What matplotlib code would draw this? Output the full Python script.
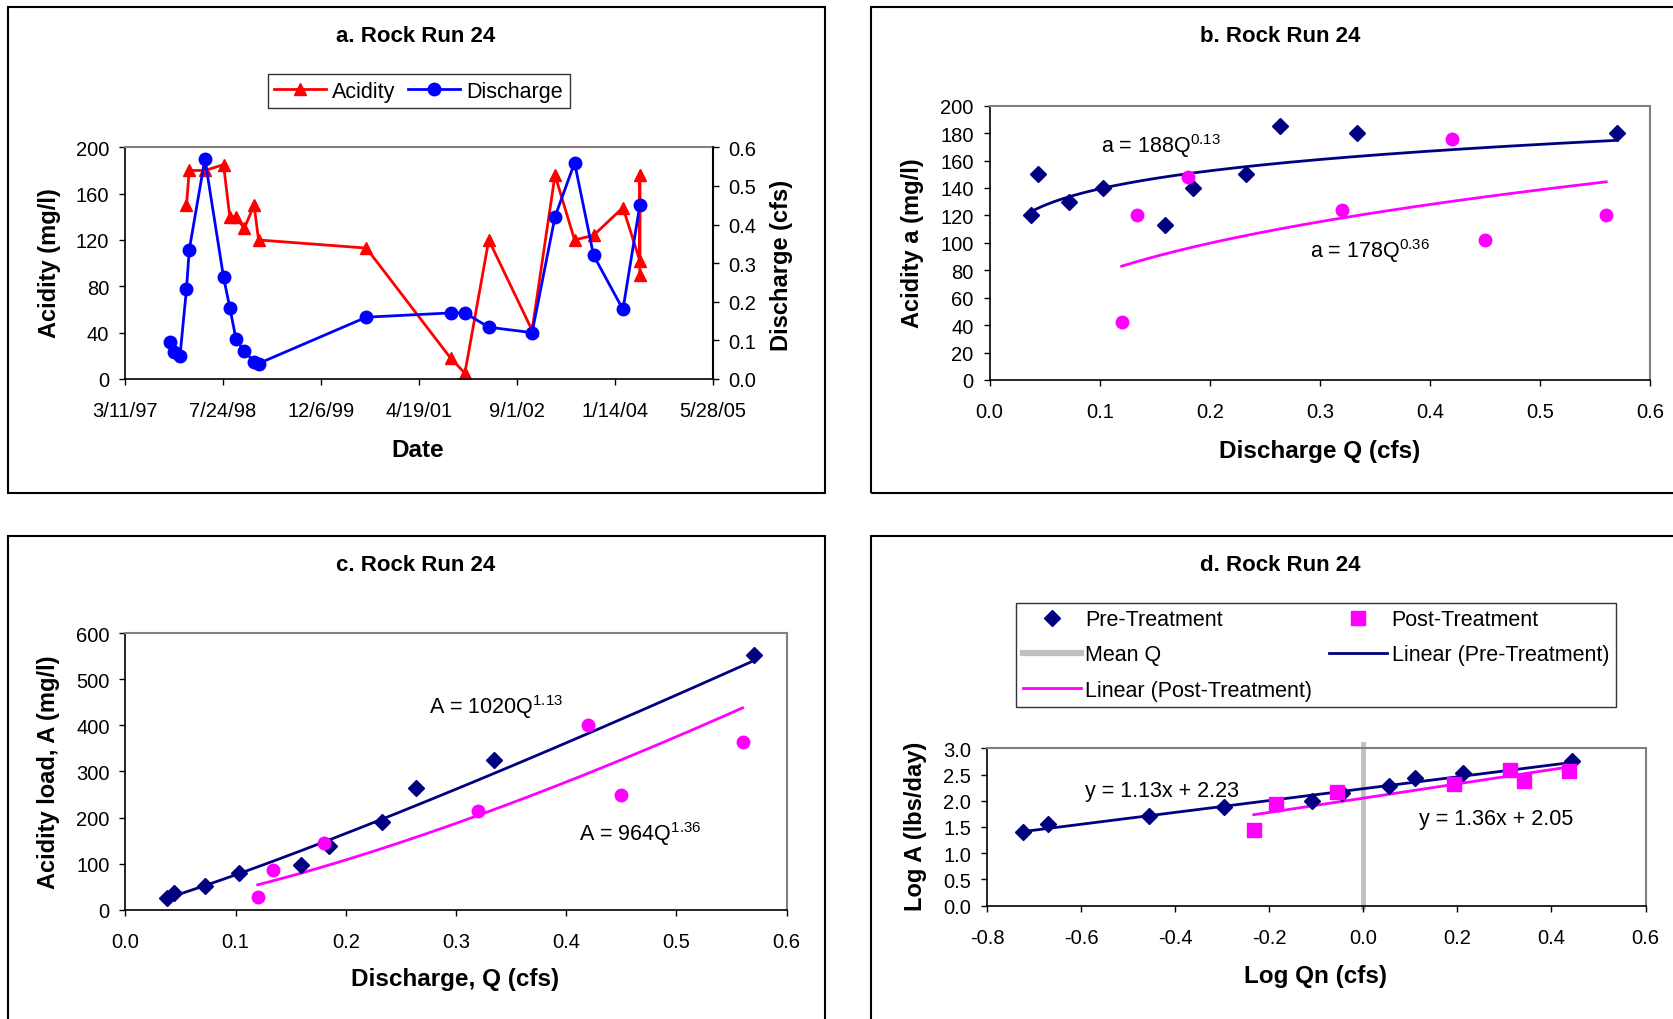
import numpy as np
import pandas as pd
import matplotlib
matplotlib.use('Agg')
import matplotlib.pyplot as plt
from matplotlib.patches import Rectangle
from matplotlib.lines import Line2D

plt.rcParams['font.family'] = ['Liberation Sans', 'DejaVu Sans']
plt.rcParams['mathtext.fontset'] = 'custom'
plt.rcParams['mathtext.rm'] = 'Liberation Sans'
plt.rcParams['mathtext.it'] = 'Liberation Sans:italic'
plt.rcParams['axes.unicode_minus'] = False

# --- a. sampling record -------------------------------------------------
acid_dates = ['1998-01-19', '1998-02-02', '1998-04-23', '1998-07-27', '1998-08-28',
              '1998-09-29', '1998-11-10', '1998-12-30', '1999-01-22', '2000-07-25',
              '2001-09-28', '2001-12-10', '2002-04-11', '2002-11-18', '2003-03-15',
              '2003-06-23', '2003-09-28', '2004-02-25', '2004-05-21', '2004-05-21',
              '2004-05-21']
acidity = [150, 180, 180, 185, 140, 140, 130, 150, 120, 113,
           18, 5, 120, 42, 176, 120, 124, 148, 102, 176, 90]

flow_dates = ['1997-10-27', '1997-11-15', '1997-12-17', '1998-01-19', '1998-02-02',
              '1998-04-23', '1998-07-27', '1998-08-28', '1998-09-29', '1998-11-10',
              '1998-12-30', '1999-01-22', '2000-07-25', '2001-09-28', '2001-12-10',
              '2002-04-11', '2002-11-18', '2003-03-15', '2003-06-23', '2003-09-28',
              '2004-02-25', '2004-05-21']
discharge = [0.095, 0.071, 0.060, 0.233, 0.334, 0.570, 0.264, 0.185, 0.103, 0.072,
             0.045, 0.040, 0.160, 0.171, 0.171, 0.134, 0.120, 0.420, 0.560, 0.320,
             0.180, 0.450]

date_ticks = ['1997-03-11', '1998-07-24', '1999-12-06', '2001-04-19',
              '2002-09-01', '2004-01-14', '2005-05-28']
date_tick_labels = ['3/11/97', '7/24/98', '12/6/99', '4/19/01', '9/1/02', '1/14/04', '5/28/05']

# --- b/c/d. pre and post treatment samples --------------------------------
q_pre = [0.038, 0.044, 0.072, 0.103, 0.159, 0.185, 0.233, 0.264, 0.334, 0.570]
a_pre = [120, 150, 130, 140, 113, 140, 150, 185, 180, 180]
q_post = [0.120, 0.134, 0.180, 0.320, 0.420, 0.450, 0.560]
a_post = [42, 120, 148, 124, 176, 102, 120]

load_pre = [25, 36, 51, 80, 97, 138, 190, 264, 325, 554]
load_post = [27, 87, 145, 215, 400, 248, 363]

logq_pre = [-0.723, -0.671, -0.456, -0.297, -0.110, -0.045, 0.055, 0.109, 0.212, 0.444]
loga_pre = [1.41, 1.55, 1.70, 1.89, 2.00, 2.15, 2.28, 2.43, 2.52, 2.75]
logq_post = [-0.233, -0.185, -0.055, 0.193, 0.312, 0.342, 0.437]
loga_post = [1.44, 1.93, 2.17, 2.31, 2.59, 2.38, 2.56]

# fitted relations (coefficient, exponent) / (slope, intercept)
conc_fit_pre = (188, 0.13)
conc_fit_post = (178, 0.36)
load_fit_pre = (1020, 1.13)
load_fit_post = (964, 1.36)
log_fit_pre = (1.13, 2.23)
log_fit_post = (1.36, 2.05)

q_ticks = ['0.0', '0.1', '0.2', '0.3', '0.4', '0.5', '0.6']
logq_ticks = ['-0.8', '-0.6', '-0.4', '-0.2', '0.0', '0.2', '0.4', '0.6']
loga_ticks = ['0.0', '0.5', '1.0', '1.5', '2.0', '2.5', '3.0']

NAVY = '#000080'
PINK = '#FF00FF'
GRAY = '#808080'
TICK_FS = 14.5
XLAB_FS = 17.5
YLAB_FS = 17
TITLE_FS = 16
NOTE_FS = 15.5


def style_axes(ax):
    for s in ['top', 'right']:
        ax.spines[s].set_color(GRAY)
        ax.spines[s].set_linewidth(1.5)
    for s in ['left', 'bottom']:
        ax.spines[s].set_color('black')
        ax.spines[s].set_linewidth(1.2)
    ax.tick_params(direction='out', length=4.5, width=1, labelsize=TICK_FS, pad=7)
    ax.tick_params(axis='x', pad=11.5)


def panel_box(fig, x0, y0, x1, y1):
    fig.add_artist(Rectangle((x0, y0), x1 - x0, y1 - y0, transform=fig.transFigure,
                             fill=False, ec='black', lw=1.5, clip_on=False))


fig = plt.figure(figsize=(16.73, 10.2), dpi=100)

panel_box(fig, 0.0045, 0.5157, 0.4931, 0.9917)
panel_box(fig, 0.5204, 0.5157, 1.02, 0.9917)
panel_box(fig, 0.0045, -0.02, 0.4931, 0.4735)
panel_box(fig, 0.5204, -0.02, 1.02, 0.4735)

# ---------------- a. acidity and discharge through time ----------------
ax_a = fig.add_axes([0.0747, 0.6275, 0.3513, 0.2271])
style_axes(ax_a)
ax_a.spines['right'].set_color('black')
ax_a.plot(pd.to_datetime(acid_dates), acidity, color='red', lw=2,
          marker='^', ms=9, label='Acidity')
ax_a.set_ylim(0, 200)
ax_a.set_yticks(np.arange(0, 201, 40))
ax_a.set_xlim(pd.Timestamp(date_ticks[0]), pd.Timestamp(date_ticks[-1]))
ax_a.set_xticks(pd.to_datetime(date_ticks))
ax_a.set_xticklabels(date_tick_labels)

ax_q = ax_a.twinx()
for s in ['top', 'left', 'bottom']:
    ax_q.spines[s].set_visible(False)
ax_q.spines['right'].set_color('black')
ax_q.spines['right'].set_linewidth(1.2)
ax_q.plot(pd.to_datetime(flow_dates), discharge, color='blue', lw=2,
          marker='o', ms=9, label='Discharge')
ax_q.set_ylim(0, 0.6)
ax_q.set_yticks(np.linspace(0, 0.6, 7))
ax_q.set_yticklabels(q_ticks)
ax_q.tick_params(direction='out', length=4.5, width=1, labelsize=TICK_FS, pad=7)

handles = [ax_a.get_lines()[0], ax_q.get_lines()[0]]
fig.legend(handles, ['Acidity', 'Discharge'], loc='center', bbox_to_anchor=(0.2502, 0.9098),
           ncol=2, fontsize=15.5, frameon=True, fancybox=False, edgecolor='black',
           handlelength=2.4, handletextpad=0.3, columnspacing=0.6, borderpad=0.3)

fig.text(0.2487, 0.9647, 'a. Rock Run 24', ha='center', va='center',
         fontsize=TITLE_FS, fontweight='bold')
fig.text(0.2498, 0.5588, 'Date', ha='center', va='center', fontsize=XLAB_FS, fontweight='bold')
fig.text(0.0293, 0.7422, 'Acidity (mg/l)', ha='center', va='center', rotation=90,
         fontsize=YLAB_FS, fontweight='bold')
fig.text(0.4674, 0.7402, 'Discharge (cfs)', ha='center', va='center', rotation=90,
         fontsize=YLAB_FS, fontweight='bold')

# ---------------- b. concentration vs discharge ----------------
ax_b = fig.add_axes([0.5915, 0.6265, 0.3949, 0.2689])
style_axes(ax_b)
ax_b.plot(q_pre, a_pre, 'D', color=NAVY, ms=8.5, zorder=3)
ax_b.plot(q_post, a_post, 'o', color=PINK, ms=9, zorder=3)
qq = np.linspace(min(q_pre), max(q_pre), 200)
ax_b.plot(qq, conc_fit_pre[0] * qq ** conc_fit_pre[1], color=NAVY, lw=2)
qq = np.linspace(min(q_post), max(q_post), 200)
ax_b.plot(qq, conc_fit_post[0] * qq ** conc_fit_post[1], color=PINK, lw=2)
ax_b.set_xlim(0, 0.6)
ax_b.set_ylim(0, 200)
ax_b.set_xticks(np.linspace(0, 0.6, 7))
ax_b.set_xticklabels(q_ticks)
ax_b.set_yticks(np.arange(0, 201, 20))
ax_b.text(0.101, 166.5, r'a = 188Q$^{\mathrm{0.13}}$', fontsize=NOTE_FS, va='baseline')
ax_b.text(0.291, 89.5, r'a = 178Q$^{\mathrm{0.36}}$', fontsize=NOTE_FS, va='baseline')

fig.text(0.7651, 0.9647, 'b. Rock Run 24', ha='center', va='center',
         fontsize=TITLE_FS, fontweight='bold')
fig.text(0.789, 0.5569, 'Discharge Q (cfs)', ha='center', va='center',
         fontsize=XLAB_FS, fontweight='bold')
fig.text(0.5457, 0.7618, 'Acidity a (mg/l)', ha='center', va='center', rotation=90,
         fontsize=YLAB_FS, fontweight='bold')

# ---------------- c. load vs discharge ----------------
ax_c = fig.add_axes([0.075, 0.1072, 0.3952, 0.2709])
style_axes(ax_c)
ax_c.plot(q_pre, load_pre, 'D', color=NAVY, ms=8.5, zorder=3)
ax_c.plot(q_post, load_post, 'o', color=PINK, ms=9, zorder=3)
qq = np.linspace(min(q_pre), max(q_pre), 200)
ax_c.plot(qq, load_fit_pre[0] * qq ** load_fit_pre[1], color=NAVY, lw=2)
qq = np.linspace(min(q_post), max(q_post), 200)
ax_c.plot(qq, load_fit_post[0] * qq ** load_fit_post[1], color=PINK, lw=2)
ax_c.set_xlim(0, 0.6)
ax_c.set_ylim(0, 600)
ax_c.set_xticks(np.linspace(0, 0.6, 7))
ax_c.set_xticklabels(q_ticks)
ax_c.set_yticks(np.arange(0, 601, 100))
ax_c.text(0.275, 427, r'A = 1020Q$^{\mathrm{1.13}}$', fontsize=NOTE_FS, va='baseline')
ax_c.text(0.412, 151, r'A = 964Q$^{\mathrm{1.36}}$', fontsize=NOTE_FS, va='baseline')

fig.text(0.2487, 0.4456, 'c. Rock Run 24', ha='center', va='center',
         fontsize=TITLE_FS, fontweight='bold')
fig.text(0.2723, 0.0396, 'Discharge, Q (cfs)', ha='center', va='center',
         fontsize=XLAB_FS, fontweight='bold')
fig.text(0.029, 0.2426, 'Acidity load, A (mg/l)', ha='center', va='center', rotation=90,
         fontsize=YLAB_FS, fontweight='bold')

# ---------------- d. log-log regression ----------------
ax_d = fig.add_axes([0.590, 0.1111, 0.3936, 0.1543])
style_axes(ax_d)
ax_d.axvline(0, ymin=-0.01, ymax=1.03, color='#C0C0C0', lw=3.5, clip_on=False, zorder=1)
pre_pts, = ax_d.plot(logq_pre, loga_pre, 'D', color=NAVY, ms=8.5, zorder=3)
post_pts, = ax_d.plot(logq_post, loga_post, 's', color=PINK, ms=10.5, zorder=3)
xx = np.array([min(logq_pre), max(logq_pre)])
pre_line, = ax_d.plot(xx, log_fit_pre[0] * xx + log_fit_pre[1], color=NAVY, lw=2, zorder=2)
xx = np.array([min(logq_post), max(logq_post)])
post_line, = ax_d.plot(xx, log_fit_post[0] * xx + log_fit_post[1], color=PINK, lw=2, zorder=2)
ax_d.set_xlim(-0.8, 0.6)
ax_d.set_ylim(0, 3.0)
ax_d.set_xticks(np.linspace(-0.8, 0.6, 8))
ax_d.set_xticklabels(logq_ticks)
ax_d.set_yticks(np.linspace(0, 3.0, 7))
ax_d.set_yticklabels(loga_ticks)
ax_d.text(-0.591, 2.096, 'y = 1.13x + 2.23', fontsize=NOTE_FS, va='baseline')
ax_d.text(0.118, 1.557, 'y = 1.36x + 2.05', fontsize=NOTE_FS, va='baseline')

mean_handle = Line2D([], [], color='#C0C0C0', lw=4.5)
fig.legend([pre_pts, mean_handle, post_line, post_pts, pre_line],
           ['Pre-Treatment', 'Mean Q', 'Linear (Post-Treatment)',
            'Post-Treatment', 'Linear (Pre-Treatment)'],
           loc='center', bbox_to_anchor=(0.7865, 0.357), ncol=2, fontsize=15.5,
           frameon=True, fancybox=False, edgecolor='black',
           handlelength=2.7, handletextpad=0.2, columnspacing=0.8,
           borderpad=0.3, labelspacing=0.66)

fig.text(0.7651, 0.4456, 'd. Rock Run 24', ha='center', va='center',
         fontsize=TITLE_FS, fontweight='bold')
fig.text(0.7864, 0.0422, 'Log Qn (cfs)', ha='center', va='center',
         fontsize=XLAB_FS, fontweight='bold')
fig.text(0.5473, 0.1897, 'Log A (lbs/day)', ha='center', va='center', rotation=90,
         fontsize=YLAB_FS, fontweight='bold')

fig.savefig('out.png', dpi=100)
